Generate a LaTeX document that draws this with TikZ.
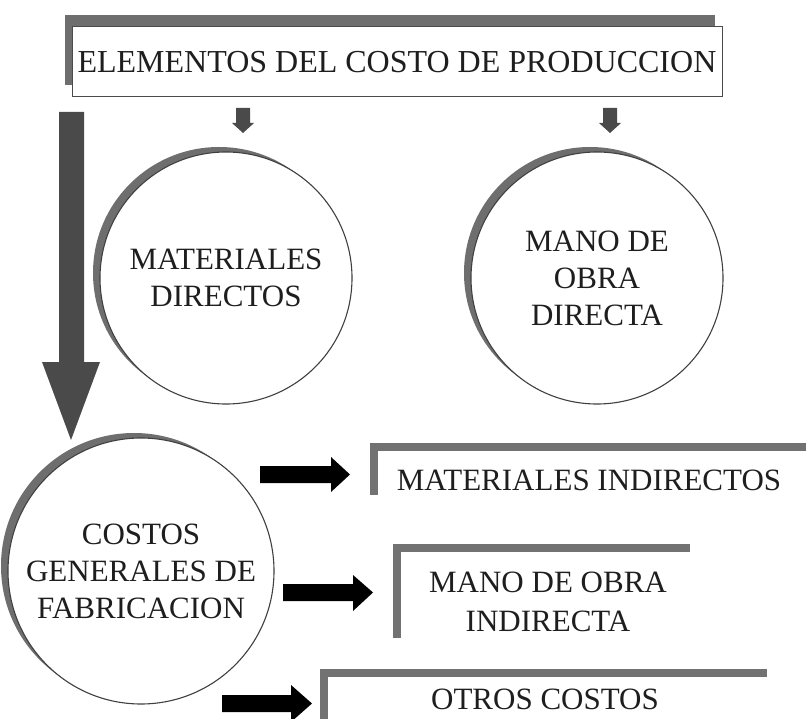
\documentclass[tikz,border=0pt]{standalone}
\usepackage{fontspec}
\setmainfont{Liberation Serif}
\usetikzlibrary{shadows}
\definecolor{shade}{HTML}{6E6E6E}
\definecolor{darkarrow}{HTML}{4A4A4A}
\definecolor{ink}{HTML}{1E1E1E}
\definecolor{bracketgray}{HTML}{727272}
\tikzset{
  circnode/.style={circle, draw=ink!85, line width=1.1pt, fill=white, minimum size=#1, inner sep=0pt, align=center, text=ink,
    font=\fontsize{31}{37}\selectfont,
    general shadow={fill=shade, shadow xshift=-7pt, shadow yshift=5pt}},
  titlebox/.style={rectangle, draw=ink!80, line width=1pt, fill=white, minimum width=650pt, minimum height=70pt, text=ink,
    font=\fontsize{32}{38}\selectfont,
    general shadow={fill=shade, shadow xshift=-7pt, shadow yshift=12pt}},
  itemtext/.style={align=center, text=ink, font=\fontsize{31}{39}\selectfont, inner sep=0pt},
  bracketline/.style={draw=bracketgray, line width=8pt, line join=miter},
  blackarrow/.style={fill=black},
  grayarrow/.style={fill=darkarrow}
}
\begin{document}
\begin{tikzpicture}[x=1pt,y=-1pt]
\useasboundingbox (0,0) rectangle (806,719);
\fill[white] (0,0) rectangle (806,719);

% title
\node[titlebox] (title) at (397,62) {ELEMENTOS DEL COSTO DE PRODUCCION};

% circles
\node[circnode=252pt] (md) at (226,278) {MATERIALES\\DIRECTOS};
\node[circnode=252pt] (mo) at (597,278) {MANO DE\\OBRA\\DIRECTA};
\node[circnode=266pt] (cg) at (141,571) {COSTOS\\GENERALES DE\\FABRICACION};

% small gray arrows from title
\fill[grayarrow] (236,108) -- (250,108) -- (250,123) -- (254,123) -- (243,133) -- (232,123) -- (236,123) -- cycle;
\fill[grayarrow] (603,108) -- (617,108) -- (617,123) -- (621,123) -- (610,133) -- (599,123) -- (603,123) -- cycle;

% big gray arrow
\fill[grayarrow] (59,112) -- (84,112) -- (84,362) -- (100,362) -- (71,440) -- (42,362) -- (59,362) -- cycle;

% brackets
\draw[bracketline] (374,495) -- (374,447) -- (812,447);
\draw[bracketline] (397,638) -- (397,548) -- (690,548);
\draw[bracketline] (324,730) -- (324,673) -- (767,673);

% item texts
\node[itemtext] (mi) at (589,480) {MATERIALES INDIRECTOS};
\node[itemtext] (moi) at (548,602) {MANO DE OBRA\\INDIRECTA};
\node[itemtext] (oc) at (545,699) {OTROS COSTOS};

% black arrows
\fill[blackarrow] (260,466) -- (331,466) -- (331,457) -- (350,474.5) -- (331,492) -- (331,483) -- (260,483) -- cycle;
\fill[blackarrow] (283,584) -- (353,584) -- (353,575) -- (373,592.5) -- (353,611) -- (353,601) -- (283,601) -- cycle;
\fill[blackarrow] (222,695) -- (291,695) -- (291,685) -- (312,703.5) -- (291,722) -- (291,712) -- (222,712) -- cycle;
\end{tikzpicture}
\end{document}
